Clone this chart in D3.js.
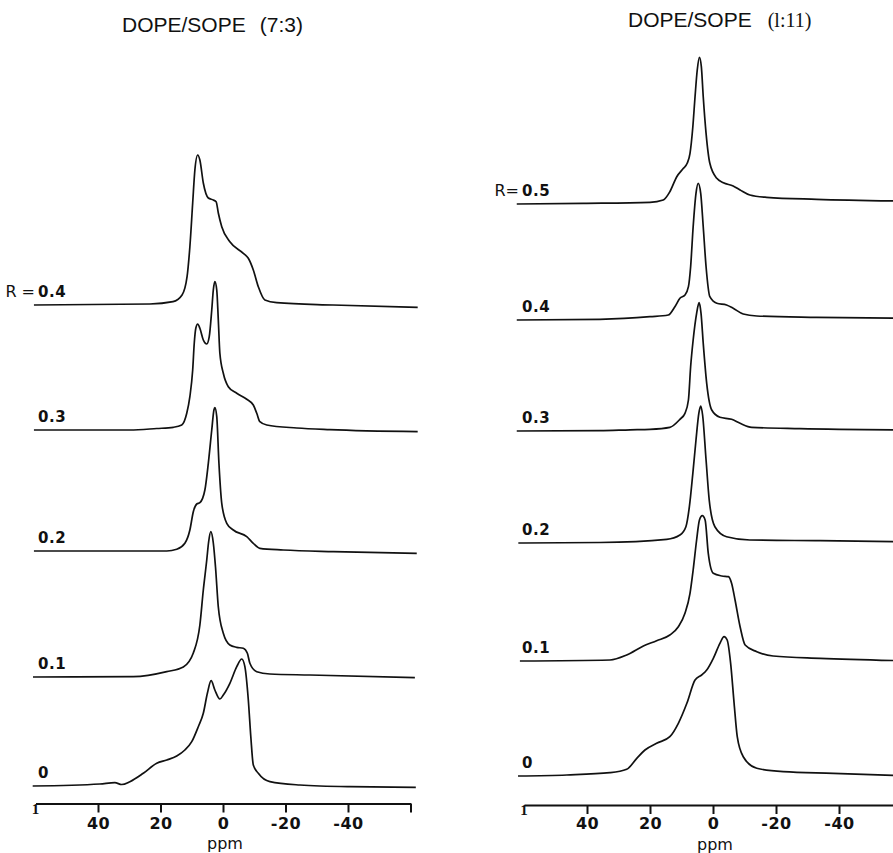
<!DOCTYPE html>
<html>
<head>
<meta charset="utf-8">
<script src="https://cdn.jsdelivr.net/npm/d3@7"></script>
<style>
  body { margin: 0; background: #fff; }
  .trace { fill: none; stroke: #111; stroke-width: 1.7; stroke-linejoin: round; }
  .lbl { font-family: "DejaVu Sans", sans-serif; font-weight: bold; fill: #111; }
  .tick-lbl { font-family: "DejaVu Sans", sans-serif; font-weight: bold; font-size: 16px; fill: #111; }
</style>
</head>
<body>
<svg id="nmr"></svg>
<script>
// chemical shift ticks (ppm), last one unlabelled
var ppm_ticks = [40, 20, 0, -20, -40, -60];

// ---- left panel : DOPE/SOPE (7:3) ----
// each spectrum is [ppm, intensity above its own baseline]
var left_labels = ["0", "0.1", "0.2", "0.3", "0.4"];
var left_offsets = [0, 109, 235, 356, 481];
var left_r00 = [[60.9,0],[39.4,2],[34.6,3.3],[32.4,1.5],[29.8,4.3],[25.5,12.7],[21.2,22.7],[18.0,26],[14.8,30],[12.2,36],[10.0,44.3],[7.9,59.3],[6.3,72.7],[5.0,92.7],[3.8,105.3],[2.6,96],[1.0,87],[-0.1,91],[-2.2,102.7],[-4.4,119.3],[-6.0,127],[-7.0,119.3],[-8.1,86],[-8.9,49.3],[-9.7,21],[-11.3,12.7],[-15.0,4.3],[-24.6,1],[-40.6,-0.7],[-61.7,-1.3]];
var left_r01 = [[60.8,0],[28.7,0.3],[18.0,5.3],[12.7,10],[9.5,24],[7.4,52],[6.3,87],[5.2,117],[4.6,135],[3.9,145.3],[3.1,134],[2.4,110],[1.5,70],[-0.1,43.7],[-2.2,32],[-4.4,29.7],[-6.5,28.7],[-7.8,23.7],[-8.6,13.7],[-10.8,5.3],[-15.0,3],[-27.8,2],[-61.4,-0.7]];
var left_r02 = [[60.5,0],[18.0,0],[14.8,1.7],[12.2,7.7],[10.6,21],[9.5,39.3],[8.4,47],[7.4,48.3],[5.8,61],[4.7,87.7],[3.6,121],[2.9,141],[2.6,143.3],[2.0,134.3],[1.3,87.7],[0.4,47.7],[-1.2,27.7],[-3.3,21],[-7.6,14.3],[-9.7,7.7],[-11.8,2.7],[-19.3,1],[-35.3,-0.7],[-62.0,-2.3]];
var left_r03 = [[60.5,0],[29.8,0],[21.2,1.5],[15.9,2.7],[13.2,5],[11.6,16.7],[10.6,33.3],[9.7,60],[9.2,86.7],[8.7,101.7],[8.1,106],[7.4,101.7],[6.3,90],[5.2,86],[4.4,93.3],[3.6,120],[3.1,140],[2.6,148.3],[2.0,140],[1.5,110],[1.0,76.7],[-0.1,56.7],[-1.7,43.3],[-4.4,36.7],[-7.6,30.7],[-9.7,25],[-10.8,16.7],[-11.8,8.3],[-14.0,5],[-23.6,2],[-34.2,0.3],[-62.3,-1.7]];
var left_r04 = [[60.5,0],[23.4,1],[16.0,3.3],[13.1,10],[11.5,28.3],[10.6,58.3],[9.7,102],[9.0,135],[8.1,150],[7.4,145],[6.3,122],[4.7,107],[3.1,105],[2.2,103.3],[1.5,92],[0.4,78.3],[-2.2,63.3],[-6.5,51.7],[-8.1,46.7],[-9.7,35],[-11.3,18.3],[-13.4,5],[-17.2,2.3],[-35.2,0],[-62.3,-2.3]];

// ---- right panel : DOPE/SOPE (1:11) ----
var right_labels = ["0", "0.1", "0.2", "0.3", "0.4", "0.5"];
var right_offsets = [0, 115, 233, 345, 456, 572];
var right_r00 = [[61.9,0],[46.4,1],[32.7,3.3],[27.4,6.7],[24.2,17.7],[21.6,26],[17.9,32.7],[13.7,39.3],[11.0,52.7],[8.3,72.7],[5.7,96],[3.6,101],[2.0,106],[-0.1,117.7],[-2.2,132.7],[-3.5,139.3],[-4.5,136],[-5.6,112.7],[-6.7,72.7],[-7.7,39.3],[-9.6,19.3],[-13.9,7.7],[-22.3,4.3],[-38.2,2.7],[-60,0.3]];
var right_r01 = [[61.3,0],[32.7,1],[27.4,6],[22.1,15],[17.9,20.3],[13.7,26],[11.0,34.3],[8.9,47.7],[7.3,67.7],[6.3,91],[5.2,121],[4.3,141],[3.4,145.3],[2.5,141],[1.5,107.7],[-0.1,87.7],[-2.8,85],[-4.9,84.3],[-5.9,77.7],[-7.0,61],[-8.6,34.3],[-10.2,16],[-13.9,9.3],[-19.1,5],[-34.0,2.7],[-60,0.3]];
var right_r02 = [[61.8,0],[35.9,0.5],[14.7,3.7],[10.5,8],[8.6,16.3],[7.5,36.3],[6.4,69.7],[5.4,103],[4.5,129.7],[3.9,137],[3.3,128],[2.2,83],[1.2,43],[-0.6,16.3],[-4.3,6.3],[-11.7,3],[-34.0,2.3],[-60,1.3]];
var right_r03 = [[62.3,0],[35.9,0.3],[26.3,1.2],[20.0,1.7],[13.7,3.7],[10.5,11.7],[8.9,17.7],[7.8,31],[7.1,64.3],[6.3,91],[5.2,117.7],[4.4,128.3],[3.8,117.7],[3.1,87.7],[2.0,47.7],[0.4,21],[-2.2,13.7],[-5.9,11.7],[-8.6,7.7],[-12.3,3.7],[-27.6,2.3],[-60,1]];
var right_r04 = [[62.3,0],[35.9,0.7],[20.0,3.3],[14.2,5],[12.1,13.3],[10.5,21.7],[8.9,25],[7.8,33.3],[7.1,53.3],[6.3,93.3],[5.4,126.7],[4.7,136.7],[3.9,126.7],[3.1,93.3],[2.2,53.3],[1.0,23.3],[-1.2,16.7],[-4.3,15],[-6.4,11.7],[-9.6,6],[-13.9,4],[-32.9,2.7],[-60,1.7]];
var right_r05 = [[62.3,0],[41.2,0.7],[20.0,1.7],[15.8,4],[13.7,12.3],[11.5,27.3],[9.4,35.7],[8.2,40.7],[7.3,50.7],[6.4,77.3],[5.7,107.3],[5.0,134],[4.3,146.7],[3.7,137.3],[3.1,107.3],[2.2,70.7],[1.0,40.7],[-1.2,25.7],[-3.3,21.3],[-6.4,18],[-8.6,14],[-11.7,9],[-17.0,6.7],[-32.9,4.7],[-60,3]];

var svg = d3.select("#nmr")
    .attr("width", 893)
    .attr("height", 853);

function SpectraPanel(cfg) {
  var x = d3.scaleLinear()
      .domain([60, -60])
      .range(cfg.xRange);

  var y = d3.scaleLinear()
      .domain([0, 700])
      .range([cfg.base, cfg.base - 700]);

  var g = svg.append("g");

  // title
  var t = g.append("text")
      .attr("x", cfg.titleX)
      .attr("y", cfg.titleY)
      .attr("font-family", "'Liberation Sans', Arial, sans-serif")
      .attr("font-size", 21)
      .attr("fill", "#111")
      .text("DOPE/SOPE");
  t.append("tspan")
      .attr("dx", cfg.ratioDx)
      .attr("font-family", cfg.ratioFont)
      .attr("font-size", cfg.ratioSize)
      .text(cfg.ratio);

  // stacked spectra
  var line = d3.line()
      .x(function (d) { return x(d[0]); })
      .curve(d3.curveMonotoneX);

  cfg.spectra.forEach(function (s, i) {
    var off = cfg.offsets[i];
    g.append("path")
        .attr("class", "trace")
        .attr("d", line.y(function (d) { return y(off + d[1]); })(s));

    var ly = y(off) - 8;
    g.append("text")
        .attr("class", "lbl")
        .attr("x", cfg.labelX)
        .attr("y", ly)
        .style("font-size", "15px")
        .attr("letter-spacing", 0.6)
        .text(cfg.labels[i]);
    if (i == cfg.spectra.length - 1) {
      g.append("text")
          .attr("class", "lbl")
          .attr("x", cfg.labelX - 3)
          .attr("y", ly)
          .attr("text-anchor", "end")
          .style("font-size", "16px")
          .style("font-weight", "normal")
          .text(cfg.prefix);
    }
  });

  // ppm axis
  var ax = g.append("g")
      .attr("transform", "translate(0," + cfg.axisY + ")")
      .call(d3.axisBottom(x)
        .tickValues(ppm_ticks)
        .tickSize(9)
        .tickSizeOuter(0)
        .tickFormat(function (d) { return d == -60 ? "" : d; }));
  ax.select(".domain").attr("stroke", "#111").attr("stroke-width", 2.2);
  ax.selectAll(".tick line").attr("stroke", "#111").attr("stroke-width", 2);
  ax.selectAll(".tick text")
      .attr("class", "tick-lbl")
      .attr("dy", null)
      .attr("y", 829 - cfg.axisY)
      .attr("letter-spacing", 0.5);

  // little serif "1" marking the 60 ppm end
  g.append("text")
      .attr("x", x(60))
      .attr("y", cfg.axisY + 10)
      .attr("text-anchor", "middle")
      .attr("font-family", "'Liberation Serif', serif")
      .attr("font-weight", "bold")
      .attr("font-size", 15)
      .attr("fill", "#111")
      .text("1");

  g.append("text")
      .attr("x", x(0) + 2)
      .attr("y", cfg.ppmY)
      .attr("text-anchor", "middle")
      .attr("font-family", "'DejaVu Sans', sans-serif")
      .attr("font-size", 16)
      .attr("fill", "#111")
      .text("ppm");
}

SpectraPanel({
  xRange: [35.5, 410.5], base: 786, axisY: 803.5, ppmY: 849,
  titleX: 122, titleY: 31.5, ratio: "(7:3)", ratioDx: 14,
  ratioFont: "'Liberation Sans', Arial, sans-serif", ratioSize: 21,
  labels: left_labels, offsets: left_offsets, labelX: 38, prefix: "R =",
  spectra: [left_r00, left_r01, left_r02, left_r03, left_r04]
});

SpectraPanel({
  xRange: [524, 902], base: 776, axisY: 805, ppmY: 850,
  titleX: 628, titleY: 26.5, ratio: "(l:11)", ratioDx: 16,
  ratioFont: "'Liberation Serif', 'Times New Roman', serif", ratioSize: 20,
  labels: right_labels, offsets: right_offsets, labelX: 522, prefix: "R=",
  spectra: [right_r00, right_r01, right_r02, right_r03, right_r04, right_r05]
});
</script>
</body>
</html>
